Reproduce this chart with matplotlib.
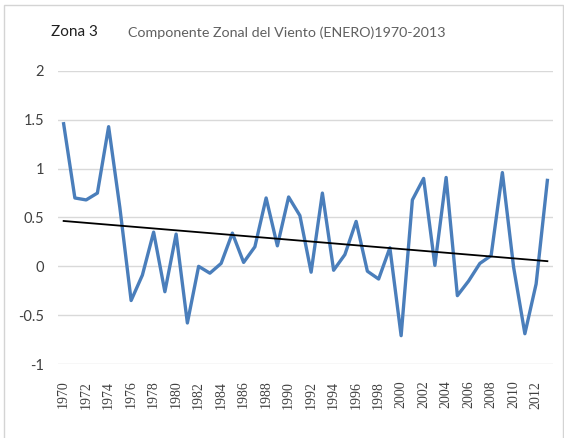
import numpy as np
import matplotlib
matplotlib.use('Agg')
import matplotlib.pyplot as plt
from matplotlib.patches import Rectangle

# January zonal wind component, zone 3
years = list(range(1970, 2014))
zonal_wind = [1.46, 0.70, 0.68, 0.75, 1.43, 0.60, -0.35, -0.09, 0.35, -0.26,
              0.33, -0.58, 0.00, -0.07, 0.03, 0.34, 0.04, 0.20, 0.70, 0.21,
              0.71, 0.52, -0.06, 0.75, -0.04, 0.12, 0.46, -0.05, -0.13, 0.19,
              -0.71, 0.68, 0.90, 0.01, 0.91, -0.30, -0.15, 0.03, 0.11, 0.96,
              -0.01, -0.69, -0.18, 0.88]
y_ticks = [-1, -0.5, 0, 0.5, 1, 1.5, 2]
y_tick_labels = ['-1', '-0.5', '0', '0.5', '1', '1.5', '2']
x_ticks = years[::2]

SANS = ['Lato', 'DejaVu Sans']
SERIF = ['Liberation Serif', 'DejaVu Serif']

fig = plt.figure(figsize=(5.64, 4.38), dpi=100)

# chart area frame
fig.patches.append(Rectangle((4 / 564, -0.02), 1 - 5 / 564, 1.0 - 5 / 438 + 0.02,
                             transform=fig.transFigure, fill=False,
                             edgecolor='#d4d4d4', linewidth=1.0))

ax = fig.add_axes([58 / 564, 1 - 364 / 438, 495 / 564, 293 / 438])

ax.plot(years, zonal_wind, color='#4a7ebb', linewidth=2.4, zorder=3)

# linear trend
coef = np.polyfit(years, zonal_wind, 1)
trend = np.polyval(coef, years)
ax.plot(years, trend, color='black', linewidth=1.3, zorder=4)

ax.set_xlim(1969.5, 2013.5)
ax.set_ylim(-1, 2)
ax.set_yticks(y_ticks)
ax.set_yticklabels(y_tick_labels, family=SANS, fontsize=10.5, color='#404040')
ax.set_xticks(x_ticks)
ax.set_xticklabels([str(y) for y in x_ticks], rotation=90, family=SERIF,
                   fontsize=10, color='#404040')
ax.tick_params(axis='both', length=0)
ax.tick_params(axis='y', pad=10)
ax.tick_params(axis='x', pad=12)
ax.grid(axis='y', color='#d9d9d9', linewidth=1.0)
for s in ax.spines.values():
    s.set_visible(False)

fig.text(51 / 564, 1 - 32 / 438, 'Zona 3', family=SANS, fontsize=11,
         color='#202020', va='center', ha='left')
fig.text(128 / 564, 1 - 33 / 438, 'Componente Zonal del Viento (ENERO)1970-2013',
         family=SANS, fontsize=10.3, color='#606060', va='center', ha='left')

fig.savefig('out.png', dpi=100)
